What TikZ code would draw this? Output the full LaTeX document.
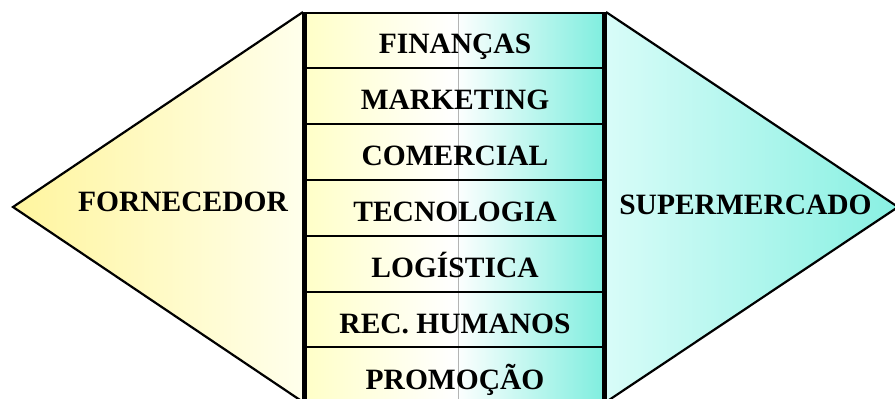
\documentclass[tikz,border=0pt]{standalone}
\usepackage{fontspec}
\setmainfont{Liberation Serif}
\definecolor{yapex}{HTML}{FFF59E}
\definecolor{ybase}{HTML}{FFFFEC}
\definecolor{rleft}{HTML}{FFFFC8}
\definecolor{rright}{HTML}{80EEDF}
\definecolor{cbase}{HTML}{D8FCF8}
\definecolor{capex}{HTML}{88F0E2}
\definecolor{midline}{HTML}{B4B4B4}
\begin{document}
\begin{tikzpicture}[x=1pt,y=-1pt,
  lbl/.style={font=\fontsize{29.5}{30}\selectfont\bfseries, inner sep=0pt, text height=19.5pt, text depth=0pt, anchor=center},
  edge/.style={line width=2.2pt, line join=miter},
  divider/.style={line width=1.4pt}]
\useasboundingbox (0,0) rectangle (895,399);
\clip (0,0) rectangle (895,399);
% left triangle
\coordinate (la) at (13,207);
\coordinate (lt) at (303,12);
\coordinate (lb) at (303,402);
\shade[left color=yapex, right color=ybase] (la) -- (lt) -- (lb) -- cycle;
\draw[edge] (lt) -- (la) -- (lb);
\draw[line width=1.6pt] (lt) -- (lb);
% right triangle
\coordinate (ra) at (898,207);
\coordinate (rt) at (606,12);
\coordinate (rb) at (606,402);
\shade[left color=cbase, right color=capex] (ra) -- (rt) -- (rb) -- cycle;
\draw[edge] (rt) -- (ra) -- (rb);
\draw[line width=1.4pt] (rt) -- (rb);
% middle rectangle
\shade[left color=rleft, right color=rright, middle color=white] (305.5,13) rectangle (603.3,402);
\draw[line width=1pt, midline] (458,13) -- (458,402);
\foreach \y in {68,124,180,236,292,347} {
  \draw[divider] (305.5,\y) -- (603.3,\y);
}
\draw[line width=2.6pt] (305.5,402) -- (305.5,13) -- (603.3,13) -- (603.3,402);
\draw[line width=1.4pt] (305.5,13) -- (305.5,402);
% labels
\node[lbl] (fin) at (455,43.5) {FINANÇAS};
\node[lbl] (mkt) at (455,99.6) {MARKETING};
\node[lbl] (com) at (455,155.7) {COMERCIAL};
\node[lbl] (tec) at (455,211.8) {TECNOLOGIA};
\node[lbl] (log) at (455,267.9) {LOGÍSTICA};
\node[lbl] (rh) at (455,324) {REC. HUMANOS};
\node[lbl] (pro) at (455,380) {PROMOÇÃO};
\node[lbl] (forn) at (183,202) {FORNECEDOR};
\node[lbl] (sup) at (745.5,205) {SUPERMERCADO};
\end{tikzpicture}
\end{document}
